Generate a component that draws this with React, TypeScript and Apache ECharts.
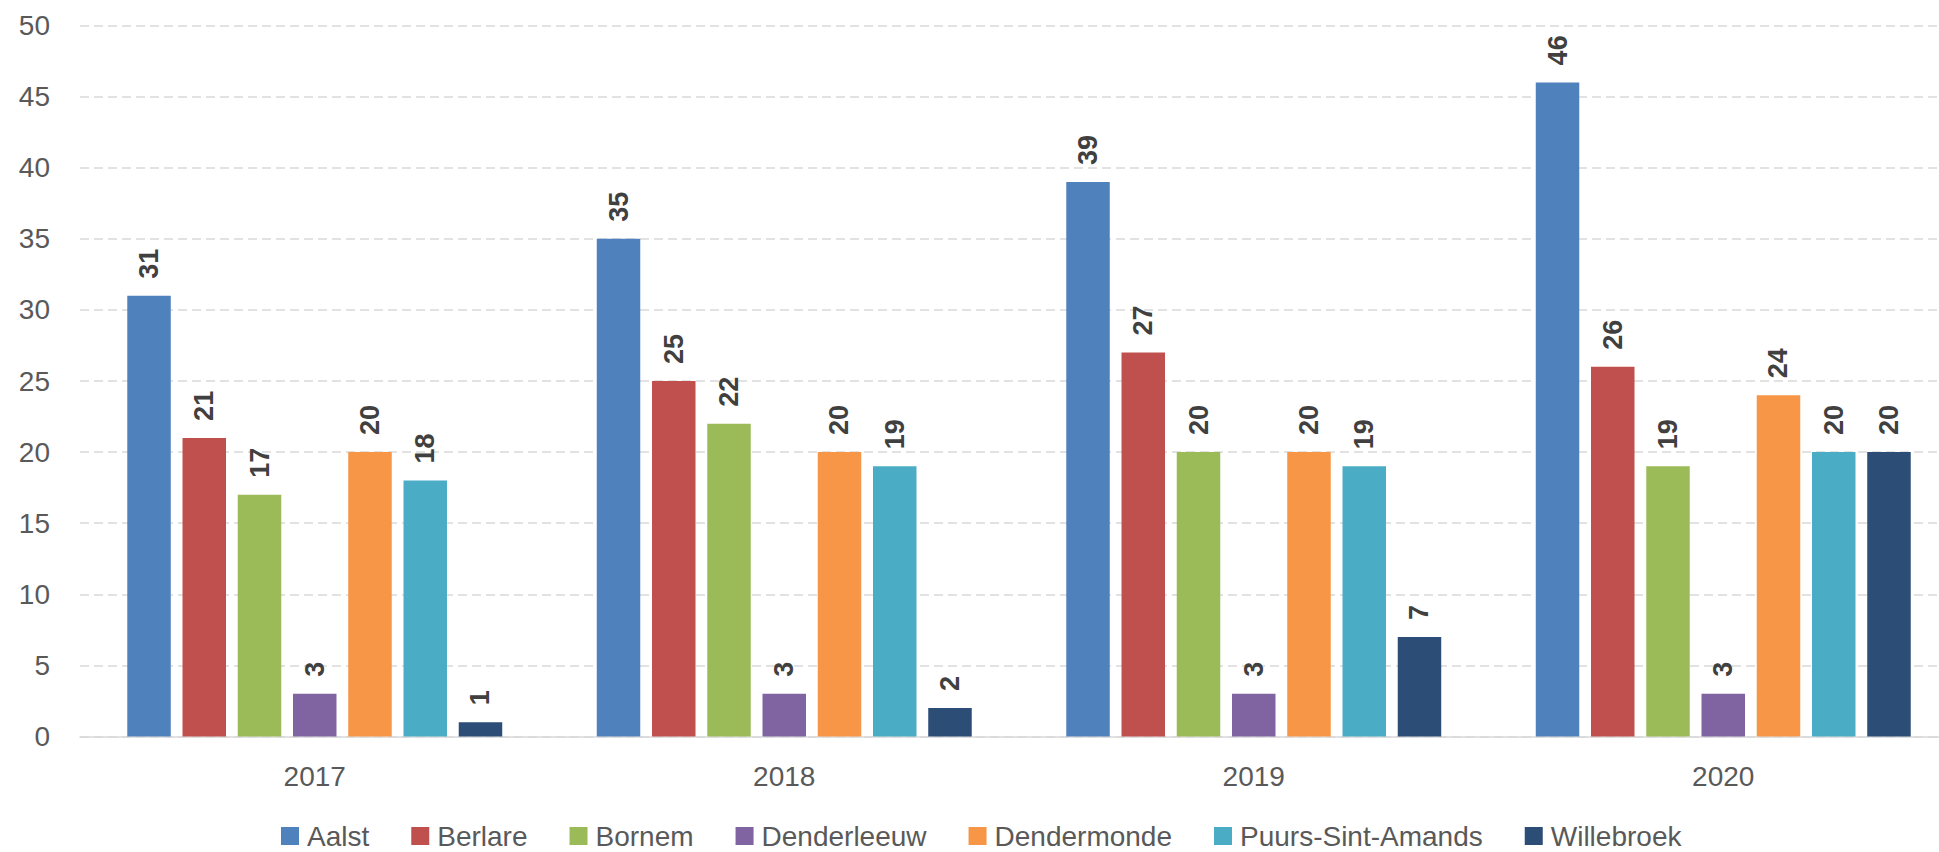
import React, { useEffect, useRef } from "react";
import * as echarts from "echarts";

const years = ["2017", "2018", "2019", "2020"];
const seriesNames = ["Aalst", "Berlare", "Bornem", "Denderleeuw", "Dendermonde", "Puurs-Sint-Amands", "Willebroek"];
const aalst = [31, 35, 39, 46];
const berlare = [21, 25, 27, 26];
const bornem = [17, 22, 20, 19];
const denderleeuw = [3, 3, 3, 3];
const dendermonde = [20, 20, 20, 24];
const puurs = [18, 19, 19, 20];
const willebroek = [1, 2, 7, 20];
const seriesValues = [aalst, berlare, bornem, denderleeuw, dendermonde, puurs, willebroek];
const colors = ["#4F81BD", "#C0504D", "#9BBB59", "#8064A2", "#F79646", "#4BACC6", "#2C4D75"];

const FONT = "'Liberation Sans', Arial, sans-serif";

export default function App() {
  const ref = useRef<HTMLDivElement>(null);
  useEffect(() => {
    if (!ref.current) return;
    const chart = echarts.init(ref.current, undefined, { renderer: "svg" });
    chart.setOption({
      animation: false,
      backgroundColor: "#ffffff",
      color: colors,
      textStyle: { fontFamily: FONT },
      grid: { left: 80, top: 25.5, right: 0, bottom: 115.5, containLabel: false },
      legend: {
        left: 276,
        top: 817,
        itemWidth: 18,
        itemHeight: 18,
        itemGap: 42,
        icon: "rect",
        textStyle: { fontSize: 28, color: "#595959", fontFamily: FONT, padding: [0, 0, 0, 3] },
        data: seriesNames,
      },
      xAxis: {
        type: "category",
        data: years,
        axisLine: { lineStyle: { color: "#D9D9D9", width: 1.5 } },
        axisTick: { show: false },
        axisLabel: { fontSize: 28, color: "#595959", margin: 26, fontFamily: FONT },
      },
      yAxis: {
        type: "value",
        min: 0,
        max: 50,
        interval: 5,
        axisLine: { show: false },
        axisTick: { show: false },
        axisLabel: { fontSize: 28, color: "#595959", margin: 30, fontFamily: FONT },
        splitLine: { lineStyle: { color: "#D9D9D9", type: [9, 5], width: 1.5 } },
      },
      series: seriesNames.map((name, i) => ({
        name,
        type: "bar",
        data: seriesValues[i],
        barWidth: 43.5,
        barGap: "27%",
        itemStyle: { color: colors[i] },
        label: {
          show: true,
          position: "top",
          rotate: 90,
          align: "left",
          verticalAlign: "middle",
          distance: 17,
          fontSize: 27,
          fontWeight: "bold",
          color: "#404040",
          fontFamily: FONT,
        },
      })),
    });
    return () => chart.dispose();
  }, []);
  return (
    <div style={{ position: "fixed", left: 0, top: 0, width: 1939, height: 852, overflow: "hidden", background: "#fff" }}>
      <div ref={ref} style={{ position: "absolute", left: 0, top: 0, width: 1958, height: 852 }} />
    </div>
  );
}
